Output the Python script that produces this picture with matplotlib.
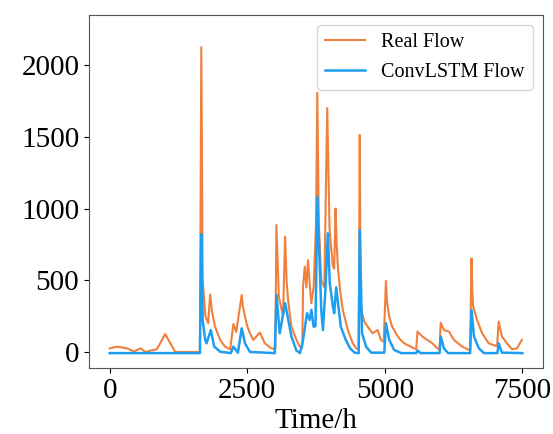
import numpy as np
import matplotlib
matplotlib.use("Agg")
import matplotlib.pyplot as plt

#%%----- data -----------------------------------------------------------------
real_t = [0, 140, 320, 440, 560, 650, 860, 1010, 1190, 1640, 1665, 1690, 1740,
          1790, 1826, 1860, 1916, 2007, 2097, 2190, 2248, 2300, 2399, 2420, 2459,
          2500, 2549, 2610, 2730, 2820, 2940, 3010, 3030, 3074, 3150, 3188, 3215,
          3242, 3303, 3393, 3453, 3500, 3514, 3544, 3575, 3604, 3634, 3664, 3706,
          3750, 3773, 3800, 3845, 3900, 3953, 3996, 4056, 4080, 4104, 4125, 4146,
          4190, 4237, 4327, 4418, 4478, 4525, 4544, 4560, 4586, 4630, 4689, 4779,
          4870, 4930, 4980, 5020, 5040, 5080, 5130, 5201, 5270, 5352, 5532, 5570,
          5593, 5683, 5864, 5954, 5995, 6015, 6075, 6165, 6256, 6406, 6527, 6550,
          6575, 6590, 6605, 6677, 6768, 6888, 7039, 7069, 7129, 7220, 7310, 7401,
          7491]
real_q = [25, 37, 25, 3, 25, 0, 20, 125, 0, 0, 2125, 500, 250,
          200, 400, 280, 176, 84, 37, 19, 195, 140, 397, 320, 246,
          180, 130, 84, 135, 60, 25, 20, 885, 385, 250, 804, 500,
          362, 176, 84, 37, 30, 455, 595, 450, 640, 478, 340, 450,
          900, 1807, 900, 500, 450, 1700, 850, 600, 580, 1000, 750, 595,
          420, 293, 153, 60, 25, 20, 1512, 350, 270, 210, 176, 130,
          153, 84, 70, 495, 350, 246, 180, 130, 90, 60, 25, 20,
          142, 107, 60, 25, 20, 204, 153, 142, 84, 37, 14, 14,
          653, 420, 316, 223, 130, 60, 40, 211, 107, 60, 19, 25,
          84]

lstm_t = [0, 1640, 1665, 1690, 1736, 1760, 1838, 1900, 2007, 2200, 2248, 2330,
          2399, 2459, 2549, 3000, 3031, 3090, 3188, 3303, 3393, 3460, 3514, 3586,
          3634, 3664, 3706, 3740, 3773, 3845, 3875, 3920, 3965, 4000, 4056, 4080,
          4116, 4200, 4290, 4370, 4450, 4525, 4544, 4586, 4660, 4750, 4990, 5020,
          5080, 5170, 5300, 5570, 5593, 5650, 5995, 6015, 6075, 6150, 6550, 6575,
          6620, 6710, 6800, 7045, 7069, 7129, 7500]
lstm_q = [-8, -8, 820, 223, 84, 60, 153, 37, 2, -8, 37, -5,
          165, 60, 0, -8, 400, 130, 340, 107, 10, -8, 84, 270,
          223, 293, 176, 180, 1083, 293, 153, 432, 827, 478, 316, 270,
          450, 176, 84, 25, -5, -8, 851, 130, 37, -5, -5, 200,
          84, 14, -8, -8, 10, -8, -8, 107, 25, -8, -8, 293,
          107, 25, -8, -8, 60, -5, -8]

xticks = [0, 2500, 5000, 7500]
yticks = [0, 500, 1000, 1500, 2000]

#%%----- graph ----------------------------------------------------------------
plt.rcParams['font.family'] = ['Liberation Serif', 'DejaVu Serif']

fig = plt.figure(figsize=(5.53, 4.34), dpi=100)
ax = fig.add_axes([0.161, 0.152, 0.821, 0.813])

ax.plot(real_t, real_q, color='#F0803C', lw=1.5, label='Real Flow')
ax.plot(lstm_t, lstm_q, color='#1E9EF0', lw=1.8, label='ConvLSTM Flow')

ax.set_xlim(-375, 7875)
ax.set_ylim(-112, 2348)
ax.set_xticks(xticks)
ax.set_yticks(yticks)
ax.tick_params(labelsize=21)
for s in ax.spines.values():
    s.set_color('#555555')
ax.set_xlabel('Time/h', fontsize=21, labelpad=3)

ax.legend(loc='upper right', fontsize=14.5)

fig.savefig('out.png', dpi=100)
